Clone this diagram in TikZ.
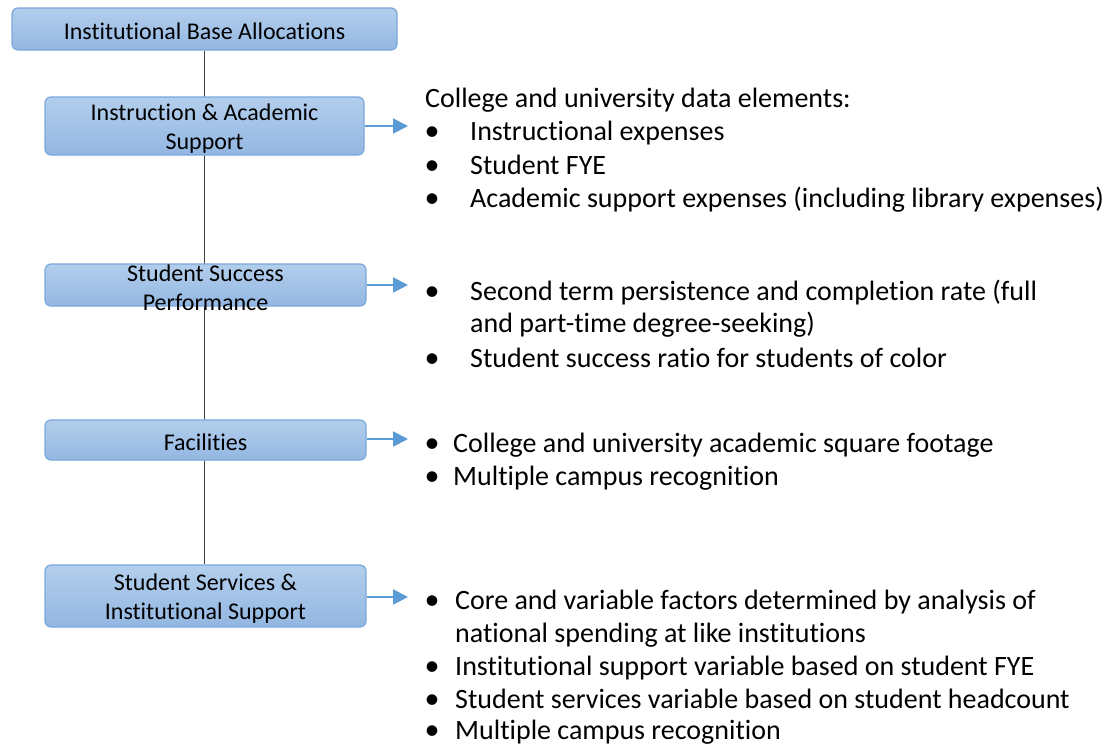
\documentclass[tikz,border=0pt]{standalone}
\usepackage{fontspec}
\setmainfont{Carlito}[Ligatures={NoCommon,NoRare}]
\usetikzlibrary{arrows.meta,backgrounds}
\definecolor{boxtop}{HTML}{B3CEEC}
\definecolor{boxbot}{HTML}{93B7E2}
\definecolor{boxline}{HTML}{7AA8DB}
\definecolor{arrowc}{HTML}{5B9BD5}
\begin{document}
\begin{tikzpicture}[x=1pt,y=-1pt,
  blockbox/.style={draw=boxline, line width=1.2pt, rounded corners=6pt, top color=boxtop, bottom color=boxbot, inner sep=0pt},
  boxtext/.style={font=\fontsize{24}{29}\selectfont, align=center, inner sep=0pt, text=black, yshift=-2.5pt},
  listtext/.style={font=\fontsize{28}{34}\selectfont, anchor=base west, inner sep=0pt},
  bul/.style={font=\fontsize{30}{34}\selectfont, anchor=base, inner sep=0pt},
  outarrow/.style={draw=arrowc, line width=2pt, -{Triangle[length=15pt,width=15pt]}},
  spine/.style={draw=black!75, line width=0.9pt}]
\useasboundingbox (0,0) rectangle (1107,747);
% boxes
\node[blockbox, minimum width=385pt, minimum height=42pt] (b1) at (204.5,29) {};
\node[boxtext] (t1) at (b1) {Institutional Base Allocations};
\node[blockbox, minimum width=319pt, minimum height=58pt] (b2) at (204.5,126) {};
\node[boxtext] (t2) at (b2) {Instruction \& Academic\\Support};
\node[blockbox, minimum width=321pt, minimum height=42pt] (b3) at (205.5,285) {};
\node[boxtext] (t3) at (b3) {Student Success\\Performance};
\node[blockbox, minimum width=321pt, minimum height=40pt] (b4) at (205.5,440) {};
\node[boxtext] (t4) at (b4) {Facilities};
\node[blockbox, minimum width=321pt, minimum height=62pt] (b5) at (205.5,596) {};
\node[boxtext] (t5) at (b5) {Student Services \&\\Institutional Support};
% spine
\begin{scope}[on background layer]
\draw[spine] (b1.south) -- (b1.south |- b5.north);
\end{scope}
% arrow ends
\coordinate (e2) at (408,126);
\coordinate (e3) at (408,285);
\coordinate (e4) at (408,439);
\coordinate (e5) at (408,597);
\draw[outarrow] (b2.east |- e2) -- (e2);
\draw[outarrow] (b3.east |- e3) -- (e3);
\draw[outarrow] (b4.east |- e4) -- (e4);
\draw[outarrow] (b5.east |- e5) -- (e5);
% group 1
\node[listtext] (h1) at (425,107) {College and university data elements:};
\node[bul] (p1) at (432,140) {•};
\node[listtext] (l1) at (470,140) {Instructional expenses};
\node[bul] (p2) at (432,174) {•};
\node[listtext] (l2) at (470,174) {Student FYE};
\node[bul] (p3) at (432,207) {•};
\node[listtext] (l3) at (470,207) {Academic support expenses (including library expenses)};
% group 2
\node[bul] (p4) at (432,300) {•};
\node[listtext] (l4) at (470,300) {Second term persistence and completion rate (full};
\node[listtext] (l4b) at (470,332) {and part-time degree-seeking)};
\node[bul] (p5) at (432,367) {•};
\node[listtext] (l5) at (470,367) {Student success ratio for students of color};
% group 3
\node[bul] (p6) at (432,452) {•};
\node[listtext] (l6) at (453,452) {College and university academic square footage};
\node[bul] (p7) at (432,485) {•};
\node[listtext] (l7) at (453,485) {Multiple campus recognition};
% group 4
\node[bul] (p8) at (432,609) {•};
\node[listtext] (l8) at (455,609) {Core and variable factors determined by analysis of};
\node[listtext] (l8b) at (455,642) {national spending at like institutions};
\node[bul] (p9) at (432,675) {•};
\node[listtext] (l9) at (455,675) {Institutional support variable based on student FYE};
\node[bul] (p10) at (432,708) {•};
\node[listtext] (l10) at (455,708) {Student services variable based on student headcount};
\node[bul] (p11) at (432,739) {•};
\node[listtext] (l11) at (455,739) {Multiple campus recognition};
\end{tikzpicture}
\end{document}
